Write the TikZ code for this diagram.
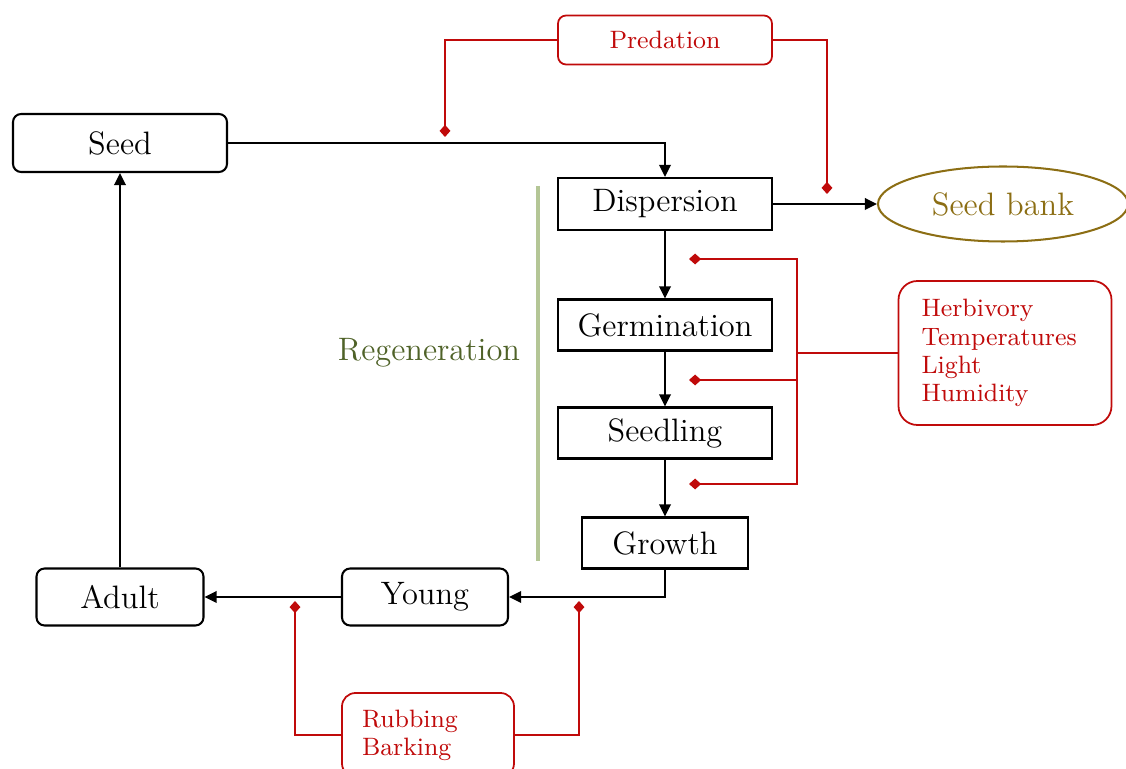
\documentclass[tikz,border=0pt]{standalone}
\usetikzlibrary{arrows.meta,shapes.geometric}
\definecolor{dred}{RGB}{192,10,10}
\definecolor{olivebrown}{RGB}{140,110,20}
\definecolor{regtext}{RGB}{79,98,40}
\definecolor{regline}{RGB}{180,198,150}
\def\pxu{0.37pt}
\begin{document}
\begin{tikzpicture}[x=0.37pt,y=-0.37pt,
  box/.style={draw,line width=0.75pt,inner sep=0pt,font=\fontsize{12}{14}\selectfont},
  rbox/.style={box,rounded corners=3pt},
  redbox/.style={draw=dred,line width=0.65pt,text=dred,inner sep=0pt,font=\fontsize{9.3}{10.4}\selectfont},
  arr/.style={line width=1pt,-{Triangle[length=4.5pt,width=4.2pt]}},
  rline/.style={draw=dred,line width=0.65pt,-{Diamond[length=4.5pt,width=4pt]}},
  rplain/.style={draw=dred,line width=0.65pt}]
\useasboundingbox (0,0) rectangle (1126,769);
\clip (0,0) rectangle (1126,769);
% black nodes
\node[rbox,minimum width=214*\pxu,minimum height=58*\pxu] (seed) at (120,143) {Seed};
\node[box,minimum width=214*\pxu,minimum height=52*\pxu] (disp) at (665,204) {Dispersion};
\node[ellipse,draw=olivebrown,line width=0.75pt,text=olivebrown,inner sep=0pt,minimum width=250*\pxu,minimum height=75*\pxu,font=\fontsize{12}{14}\selectfont] (bank) at (1003,204) {Seed bank};
\node[box,minimum width=214*\pxu,minimum height=51*\pxu] (germ) at (665,325) {Germination};
\node[box,minimum width=214*\pxu,minimum height=51*\pxu] (sdl) at (665,433) {Seedling};
\node[box,minimum width=166*\pxu,minimum height=51*\pxu] (grow) at (665,543) {Growth};
\node[rbox,minimum width=166*\pxu,minimum height=57*\pxu] (young) at (425,597) {Young};
\node[rbox,minimum width=167*\pxu,minimum height=57*\pxu] (adult) at (120,597) {Adult};
% regeneration
\draw[regline,line width=1.5pt] (538,186) -- (538,561);
\node[text=regtext,font=\fontsize{12}{14}\selectfont] (regen) at (429,353) {Regeneration};
% red boxes
\node[redbox,rounded corners=3pt,minimum width=214*\pxu,minimum height=49*\pxu] (pred) at (665,40) {Predation};
\node[redbox,rounded corners=7pt,align=left,text width=167*\pxu,inner xsep=23*\pxu,minimum height=144*\pxu] (herb) at (1005,353) {Herbivory\\Temperatures\\Light\\Humidity};
\node[redbox,rounded corners=5pt,align=left,text width=132*\pxu,inner xsep=20*\pxu,minimum height=84*\pxu] (rub) at (428,735) {Rubbing\\Barking};
% black connectors
\draw[arr] (seed.east) -| (disp.north);
\draw[arr] (disp.east) -- (bank.west);
\draw[arr] (disp) -- (germ);
\draw[arr] (germ) -- (sdl);
\draw[arr] (sdl) -- (grow);
\draw[arr] (grow.south) |- (young.east);
\draw[arr] (young) -- (adult);
\draw[arr] (adult) -- (seed);
% red connectors
\coordinate (p1) at (445,137);
\coordinate (p2) at (827,194);
\draw[rline] (pred.west) -| (p1);
\draw[rline] (pred.east) -| (p2);
\coordinate (hj) at (797,353);
\coordinate (d1) at (689,259);
\coordinate (d2) at (689,380);
\coordinate (d3) at (689,484);
\draw[rplain] (herb.west) -- (hj);
\draw[rline] (hj) |- (d1);
\draw[rline] (hj) |- (d2);
\draw[rline] (hj) |- (d3);
\coordinate (r1) at (295,601);
\coordinate (r2) at (579,601);
\draw[rline] (rub.west) -| (r1);
\draw[rline] (rub.east) -| (r2);
\end{tikzpicture}
\end{document}
